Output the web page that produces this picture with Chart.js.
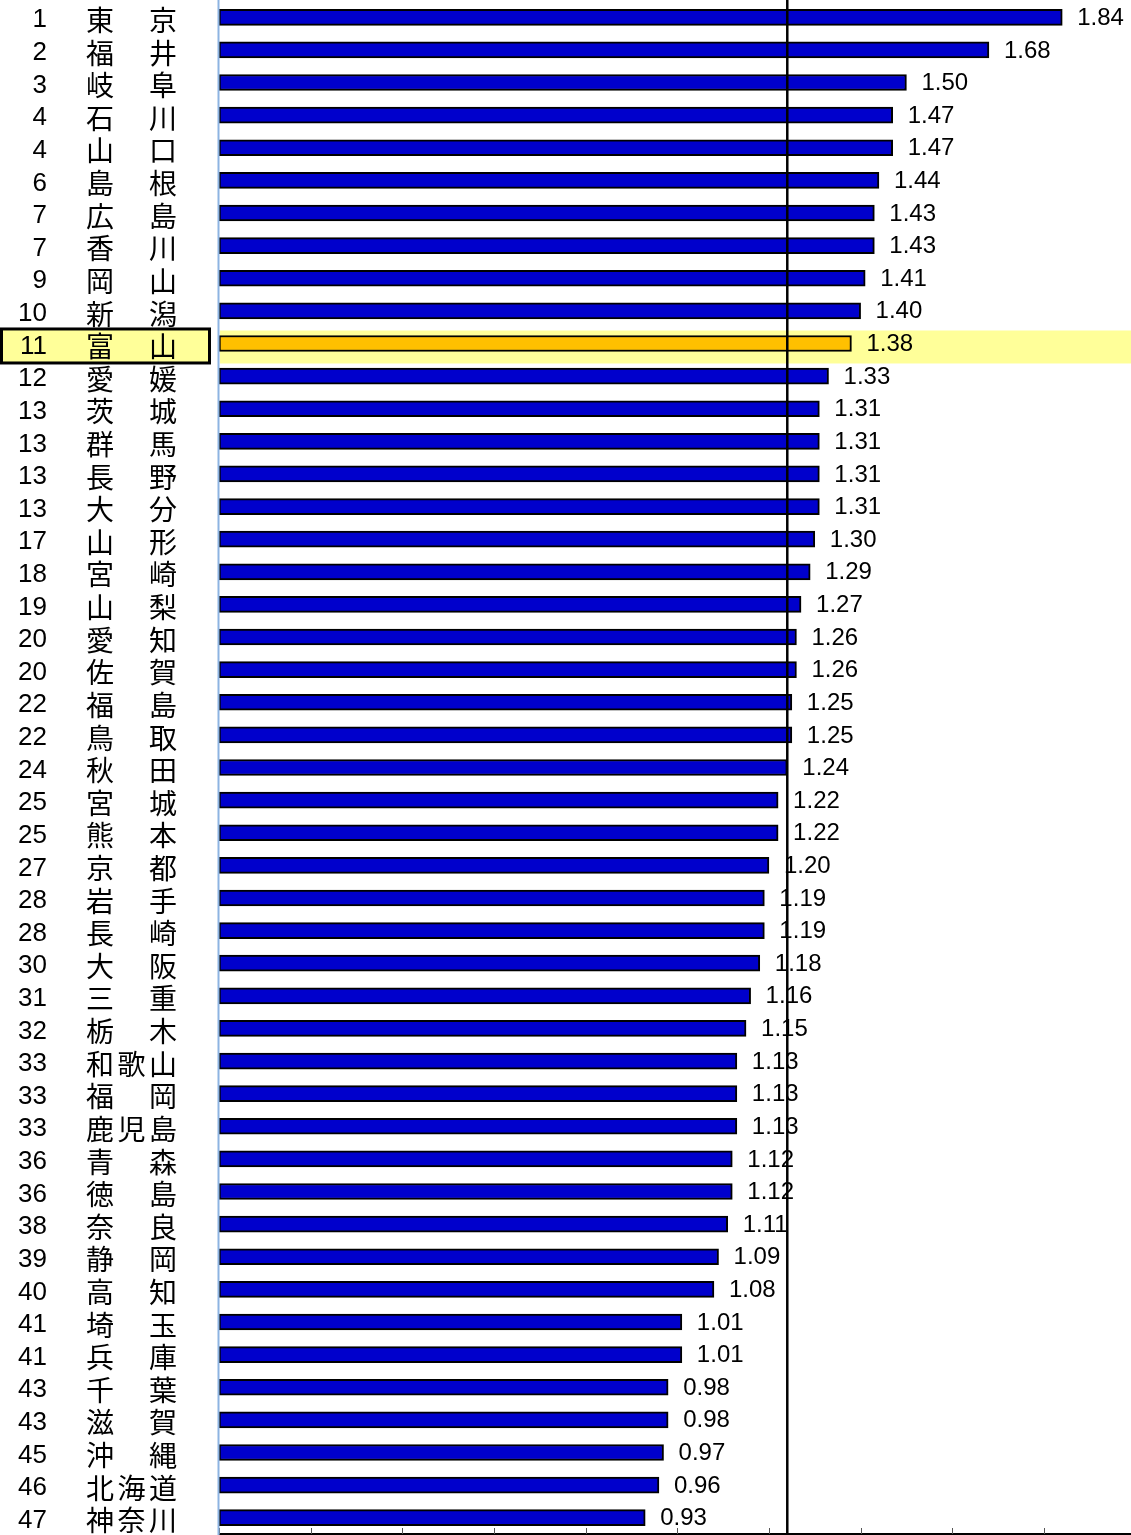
<!DOCTYPE html>
<html lang="ja">
<head>
<meta charset="utf-8">
<title>都道府県別</title>
<script src="https://cdn.jsdelivr.net/npm/chart.js@4"></script>
<style>
  body { margin: 0; background: #fff; }
  canvas { display: block; }
</style>
</head>
<body>
<canvas id="myChart" width="1131" height="1535"></canvas>
<script>
// Data
let ranks = [1, 2, 3, 4, 4, 6, 7, 7, 9, 10, 11, 12, 13, 13, 13, 13, 17, 18, 19, 20, 20, 22, 22, 24, 25, 25, 27, 28, 28, 30, 31, 32, 33, 33, 33, 36, 36, 38, 39, 40, 41, 41, 43, 43, 45, 46, 47];
let prefectures = ["東京", "福井", "岐阜", "石川", "山口", "島根", "広島", "香川", "岡山", "新潟", "富山", "愛媛", "茨城", "群馬", "長野", "大分", "山形", "宮崎", "山梨", "愛知", "佐賀", "福島", "鳥取", "秋田", "宮城", "熊本", "京都", "岩手", "長崎", "大阪", "三重", "栃木", "和歌山", "福岡", "鹿児島", "青森", "徳島", "奈良", "静岡", "高知", "埼玉", "兵庫", "千葉", "滋賀", "沖縄", "北海道", "神奈川"];
let values = [1.84, 1.68, 1.50, 1.47, 1.47, 1.44, 1.43, 1.43, 1.41, 1.40, 1.38, 1.33, 1.31, 1.31, 1.31, 1.31, 1.30, 1.29, 1.27, 1.26, 1.26, 1.25, 1.25, 1.24, 1.22, 1.22, 1.20, 1.19, 1.19, 1.18, 1.16, 1.15, 1.13, 1.13, 1.13, 1.12, 1.12, 1.11, 1.09, 1.08, 1.01, 1.01, 0.98, 0.98, 0.97, 0.96, 0.93];
let xTicks = [0, 0.2, 0.4, 0.6, 0.8, 1.0, 1.2, 1.4, 1.6, 1.8];
let xMax = 1.99;
let nationalAverage = 1.24;
let highlightName = "富山";

let highlightIndex = prefectures.indexOf(highlightName);
let barColors = prefectures.map((p, i) => i === highlightIndex ? "#FFC000" : "#0000CC");

let numFont = '"Liberation Sans", Arial, sans-serif';
let jpFont = '"Noto Sans CJK JP", sans-serif';

// Yellow row band and the boxed label for the highlighted prefecture
let highlightPlugin = {
    id: "highlight",
    beforeDatasetsDraw: (chart) => {
        let ctx = chart.ctx;
        let area = chart.chartArea;
        let yc = chart.scales.y.getPixelForValue(highlightIndex);
        ctx.save();
        ctx.fillStyle = "#FFFF99";
        ctx.fillRect(area.left + 1, yc - 13, chart.width - area.left, 33);
        ctx.fillRect(0, yc - 14, 210, 34);
        ctx.strokeStyle = "#000";
        ctx.lineWidth = 3;
        ctx.strokeRect(1.5, yc - 14.5, 208, 34);
        ctx.restore();
    }
};

// Rank and prefecture name on the left
let labelPlugin = {
    id: "labels",
    afterDraw: (chart) => {
        let ctx = chart.ctx;
        let yScale = chart.scales.y;
        ctx.save();
        ctx.fillStyle = "#000";
        ctx.textBaseline = "middle";
        prefectures.forEach((name, i) => {
            let y = yScale.getPixelForValue(i) + 3;
            ctx.font = "26px " + numFont;
            ctx.textAlign = "right";
            ctx.fillText(String(ranks[i]), 47, y);
            ctx.font = "28px " + jpFont;
            ctx.textAlign = "center";
            let chars = Array.from(name);
            let slots = chars.length === 3 ? [100, 131.5, 163] : [100, 163];
            chars.forEach((c, k) => ctx.fillText(c, slots[k], y));
        });
        ctx.restore();
    }
};

// Value labels, axis lines, tick marks and the average line
let valuePlugin = {
    id: "values",
    afterDatasetsDraw: (chart) => {
        let ctx = chart.ctx;
        let area = chart.chartArea;
        let xScale = chart.scales.x;
        let yScale = chart.scales.y;
        ctx.save();

        ctx.fillStyle = "#000";
        ctx.font = "24px " + numFont;
        ctx.textAlign = "left";
        ctx.textBaseline = "middle";
        values.forEach((v, i) => {
            let x = xScale.getPixelForValue(v) + 15;
            let y = yScale.getPixelForValue(i) + 1;
            ctx.fillText(v.toFixed(2), x, y);
        });

        // bottom axis with small upward ticks
        ctx.strokeStyle = "#000";
        ctx.lineWidth = 2;
        ctx.beginPath();
        ctx.moveTo(area.left, area.bottom);
        ctx.lineTo(area.right, area.bottom);
        ctx.stroke();
        ctx.strokeStyle = "#555";
        ctx.lineWidth = 1;
        xTicks.forEach((t) => {
            let x = Math.round(xScale.getPixelForValue(t)) + 0.5;
            ctx.beginPath();
            ctx.moveTo(x, area.bottom - 6);
            ctx.lineTo(x, area.bottom);
            ctx.stroke();
        });

        // left axis line
        ctx.strokeStyle = "#8DB4E2";
        ctx.lineWidth = 2;
        ctx.beginPath();
        ctx.moveTo(area.left - 0.5, 0);
        ctx.lineTo(area.left - 0.5, chart.height);
        ctx.stroke();

        // national average
        let ax = xScale.getPixelForValue(nationalAverage);
        ctx.strokeStyle = "#000";
        ctx.lineWidth = 2.5;
        ctx.beginPath();
        ctx.moveTo(ax, 0);
        ctx.lineTo(ax, area.bottom);
        ctx.stroke();

        ctx.restore();
    }
};

let ctx = document.getElementById("myChart").getContext("2d");
let myChart = new Chart(ctx, {
    type: "bar",
    data: {
        labels: prefectures,
        datasets: [{
            data: values,
            backgroundColor: barColors,
            borderColor: "#000",
            borderWidth: 2,
            borderSkipped: false,
            barThickness: 16
        }]
    },
    options: {
        indexAxis: "y",
        responsive: false,
        animation: false,
        devicePixelRatio: 1,
        layout: { padding: { left: 219, right: 0, top: 1, bottom: 1 } },
        plugins: {
            legend: { display: false },
            tooltip: { enabled: false }
        },
        scales: {
            x: { display: false, min: 0, max: xMax },
            y: { display: false }
        }
    },
    plugins: [highlightPlugin, valuePlugin, labelPlugin]
});
</script>
</body>
</html>
